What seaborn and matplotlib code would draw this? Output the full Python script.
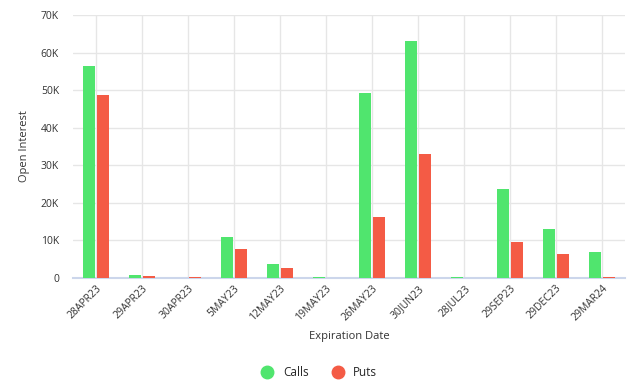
import pandas as pd
import matplotlib.pyplot as plt
import seaborn as sns
from matplotlib.lines import Line2D
from matplotlib.ticker import FuncFormatter

# === Données ===
dates = ["28APR23", "29APR23", "30APR23", "5MAY23", "12MAY23", "19MAY23",
         "26MAY23", "30JUN23", "28JUL23", "29SEP23", "29DEC23", "29MAR24"]
calls = [56500, 800, 0, 10850, 3700, 200, 49200, 63200, 200, 23600, 13100, 6850]
puts = [48600, 600, 200, 7800, 2750, 0, 16200, 32900, 0, 9700, 6400, 350]

couleurs = {"Calls": "#50e56e", "Puts": "#f45b45"}

df = pd.DataFrame({"date": dates * 2,
                   "oi": calls + puts,
                   "type": ["Calls"] * len(dates) + ["Puts"] * len(dates)})

# === Figure ===
sns.set_theme(style="white")
plt.rcParams["font.family"] = ["Open Sans", "DejaVu Sans"]

fig = plt.figure(figsize=(6.33, 3.83), dpi=100)
ax = fig.add_axes([73 / 633, 1 - 278 / 383, 552 / 633, 263 / 383])

sns.barplot(data=df, x="date", y="oi", hue="type", palette=couleurs,
            width=0.6, gap=0.11, ax=ax, legend=False, saturation=1,
            linewidth=0, zorder=3)

ax.set_xlim(-0.5, len(dates) - 0.5)
ax.set_ylim(0, 70000)
ax.set_yticks(range(0, 70001, 10000))
ax.yaxis.set_major_formatter(FuncFormatter(lambda v, p: "0" if v == 0 else f"{int(v / 1000)}K"))

ax.grid(True, color="#e6e6e6", linewidth=1, zorder=0)
ax.set_axisbelow(True)
for s in ["top", "right", "left"]:
    ax.spines[s].set_visible(False)
ax.spines["bottom"].set_color("#ccd6eb")
ax.spines["bottom"].set_linewidth(1.5)
ax.spines["bottom"].set_zorder(1)

ax.tick_params(axis="both", length=0, labelsize=7.5, colors="#333333")
ax.tick_params(axis="y", pad=10)
plt.setp(ax.get_xticklabels(), rotation=45, ha="right", rotation_mode="anchor")

ax.set_xlabel("Expiration Date", fontsize=8, color="#333333", labelpad=6)
ax.set_ylabel("Open Interest", fontsize=8, color="#333333", labelpad=8)

handles = [Line2D([], [], marker="o", linestyle="", markersize=9,
                  markerfacecolor=c, markeredgecolor=c, label=k)
           for k, c in couleurs.items()]
fig.legend(handles=handles, loc="center", bbox_to_anchor=(0.5, 1 - 373 / 383),
           ncol=2, frameon=False, fontsize=8.5, handletextpad=0.3,
           columnspacing=1.5)

fig.savefig("out.png", dpi=100)
plt.close()
